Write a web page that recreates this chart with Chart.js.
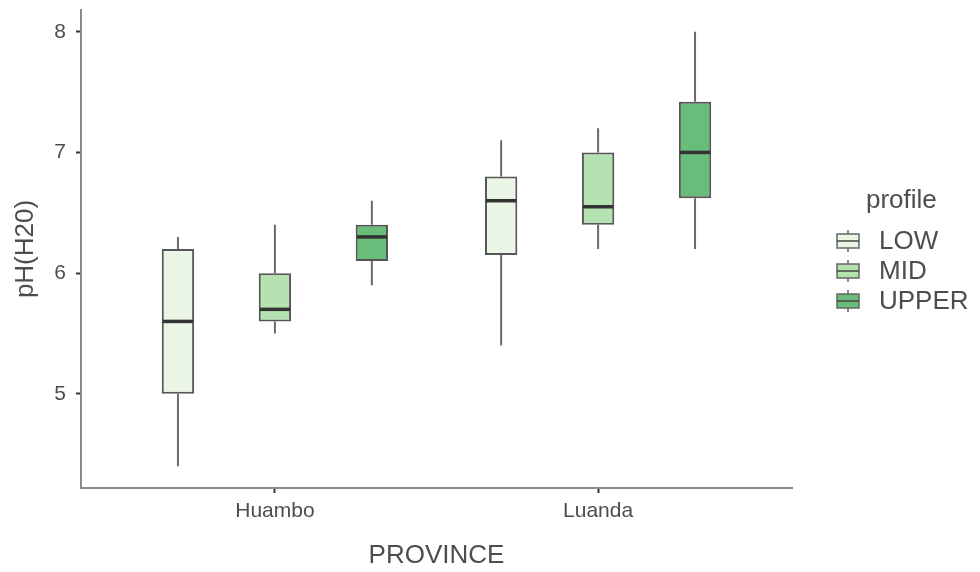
<!DOCTYPE html>
<html>
<head>
<meta charset="utf-8">
<title>pH(H20) by province and profile</title>
<script src="https://cdn.jsdelivr.net/npm/chart.js@4"></script>
<style>
  html, body { margin: 0; padding: 0; background: #fff; }
  #wrap { width: 980px; height: 572px; }
</style>
</head>
<body>
<div id="wrap"><canvas id="chart" width="980" height="572"></canvas></div>
<script>
// categories on the x axis and the fill groups
const categories = ['Huambo', 'Luanda'];
const profiles = ['LOW', 'MID', 'UPPER'];

// five-number summaries per province: [min, q1, median, q3, max]
const lowFive   = [[4.4, 5.0, 5.6, 6.2, 6.3],  [5.4, 6.15, 6.6, 6.8, 7.1]];
const midFive   = [[5.5, 5.6, 5.7, 6.0, 6.4],  [6.2, 6.4, 6.55, 7.0, 7.2]];
const upperFive = [[5.9, 6.1, 6.3, 6.4, 6.6],  [6.2, 6.62, 7.0, 7.42, 8.0]];

const yTicks = [5, 6, 7, 8];

// styling
const fills = ['#eaf5e6', '#b5e2b1', '#68bd7a'];
const FONT = "'Liberation Sans', Arial, sans-serif";
const TEXT = '#4d4d4d';

Chart.defaults.font.family = FONT;

const allFive = [lowFive, midFive, upperFive];

const datasets = profiles.map((p, k) => ({
  label: p,
  stats: allFive[k],
  data: categories.map((c, i) => ({ x: i, y: [allFive[k][i][1], allFive[k][i][3]] })),
  backgroundColor: fills[k],
  borderColor: '#555',
  borderWidth: 2,
  borderSkipped: false
}));

// whiskers and medians, drawn through the chart scales
const boxParts = {
  id: 'boxParts',
  beforeDatasetsDraw(chart) {
    const ctx = chart.ctx;
    const y = chart.scales.y;
    ctx.save();
    ctx.strokeStyle = '#6a6a6a';
    ctx.lineWidth = 2;
    chart.data.datasets.forEach((ds, k) => {
      const meta = chart.getDatasetMeta(k);
      meta.data.forEach((el, i) => {
        const s = ds.stats[i];
        ctx.beginPath();
        ctx.moveTo(el.x, y.getPixelForValue(s[4]));
        ctx.lineTo(el.x, y.getPixelForValue(s[3]));
        ctx.moveTo(el.x, y.getPixelForValue(s[1]));
        ctx.lineTo(el.x, y.getPixelForValue(s[0]));
        ctx.stroke();
      });
    });
    ctx.restore();
  },
  afterDatasetsDraw(chart) {
    const ctx = chart.ctx;
    const y = chart.scales.y;
    ctx.save();
    ctx.strokeStyle = '#333';
    ctx.lineWidth = 3.5;
    chart.data.datasets.forEach((ds, k) => {
      const meta = chart.getDatasetMeta(k);
      meta.data.forEach((el, i) => {
        const py = y.getPixelForValue(ds.stats[i][2]);
        const hw = el.width / 2;
        ctx.beginPath();
        ctx.moveTo(el.x - hw + 1, py);
        ctx.lineTo(el.x + hw - 1, py);
        ctx.stroke();
      });
    });
    ctx.restore();
  },
  afterDraw(chart) {
    // legend on the right
    const ctx = chart.ctx;
    ctx.save();
    ctx.fillStyle = TEXT;
    ctx.font = '26px ' + FONT;
    ctx.textBaseline = 'middle';
    ctx.textAlign = 'left';
    ctx.fillText('profile', 866, 201);
    profiles.forEach((p, k) => {
      const cy = 241 + k * 30;
      const kx = 837, kw = 22, kh = 14;
      ctx.strokeStyle = '#666';
      ctx.lineWidth = 1.5;
      ctx.beginPath();
      ctx.moveTo(kx + kw / 2, cy - 11);
      ctx.lineTo(kx + kw / 2, cy + 11);
      ctx.stroke();
      ctx.fillStyle = fills[k];
      ctx.fillRect(kx, cy - kh / 2, kw, kh);
      ctx.strokeRect(kx, cy - kh / 2, kw, kh);
      ctx.strokeStyle = '#444';
      ctx.beginPath();
      ctx.moveTo(kx, cy);
      ctx.lineTo(kx + kw, cy);
      ctx.stroke();
      ctx.fillStyle = TEXT;
      ctx.fillText(p, 879, cy + 1);
    });
    ctx.restore();
  }
};

new Chart(document.getElementById('chart'), {
  type: 'bar',
  data: { datasets },
  options: {
    responsive: false,
    animation: false,
    layout: { padding: { top: 10, right: 188, left: 0, bottom: 0 } },
    plugins: { legend: { display: false }, tooltip: { enabled: false } },
    datasets: { bar: { categoryPercentage: 0.9, barPercentage: 1 / 3 } },
    scales: {
      x: {
        type: 'linear',
        min: -0.6,
        max: 1.6,
        offset: false,
        afterBuildTicks: s => { s.ticks = categories.map((c, i) => ({ value: i })); },
        afterFit: s => { s.height = 84; s.paddingLeft = 0; s.paddingRight = 0; },
        ticks: {
          callback: v => categories[v],
          font: { size: 21 },
          color: TEXT,
          padding: 6,
          maxRotation: 0
        },
        grid: { offset: false, drawOnChartArea: false, drawTicks: true, tickLength: 5, tickWidth: 2, tickColor: '#333' },
        border: { display: true, color: '#8a8a8a', width: 2 },
        title: { display: true, text: 'PROVINCE', font: { size: 26 }, color: TEXT, padding: { top: 0, bottom: 1 } }
      },
      y: {
        min: 4.22,
        max: 8.18,
        afterBuildTicks: s => { s.ticks = yTicks.map(v => ({ value: v })); },
        afterFit: s => { s.width = 81; s.paddingTop = 0; s.paddingBottom = 0; },
        ticks: { font: { size: 21 }, color: TEXT, padding: 10 },
        grid: { drawOnChartArea: false, drawTicks: true, tickLength: 5, tickWidth: 2, tickColor: '#333' },
        border: { display: true, color: '#8a8a8a', width: 2 },
        title: { display: true, text: 'pH(H20)', font: { size: 26 }, color: TEXT, padding: { top: 10, bottom: 0 } }
      }
    }
  },
  plugins: [boxParts]
});
</script>
</body>
</html>
